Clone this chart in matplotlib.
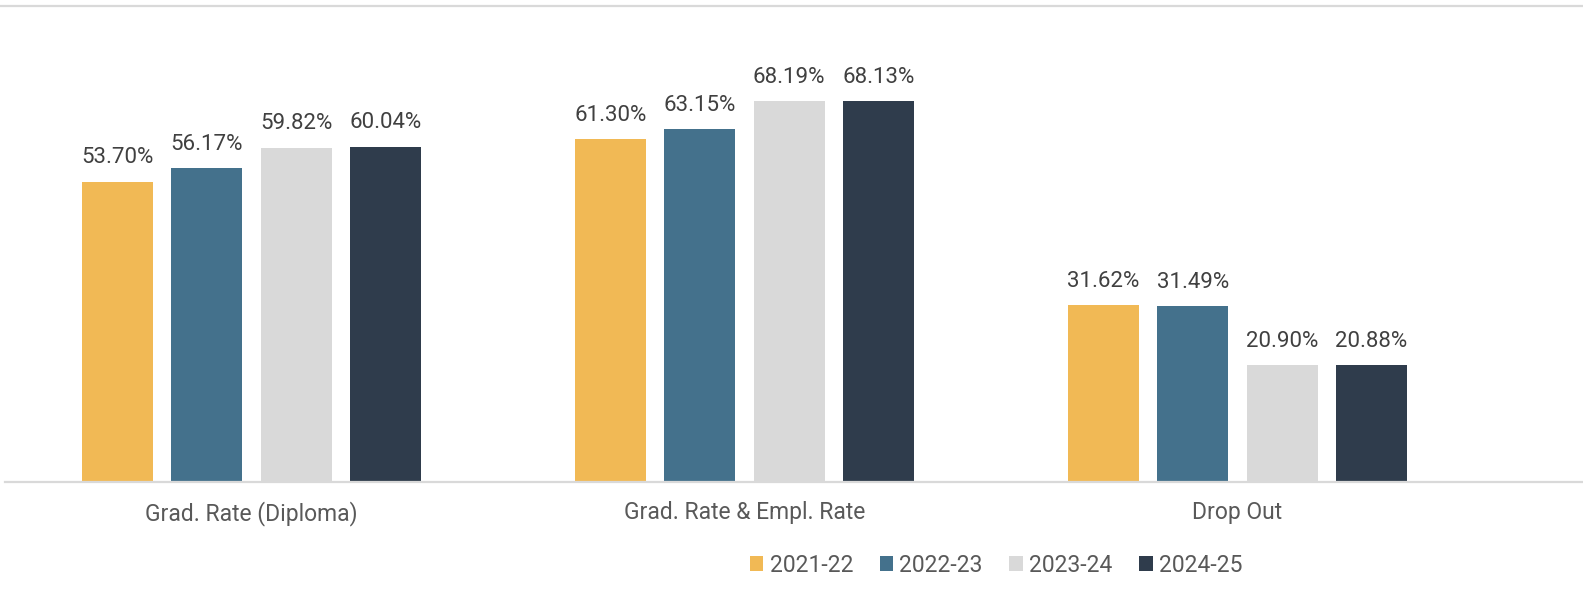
import matplotlib
matplotlib.use("Agg")
import matplotlib.pyplot as plt
from matplotlib.patches import Patch
from matplotlib.lines import Line2D
import numpy as np

categories = ["Grad. Rate (Diploma)", "Grad. Rate & Empl. Rate", "Drop Out"]
series_names = ["2021-22", "2022-23", "2023-24", "2024-25"]
v_2021_22 = [53.70, 61.30, 31.62]
v_2022_23 = [56.17, 63.15, 31.49]
v_2023_24 = [59.82, 68.19, 20.90]
v_2024_25 = [60.04, 68.13, 20.88]
values = [v_2021_22, v_2022_23, v_2023_24, v_2024_25]
colors = ["#F1B955", "#44718C", "#D9D9D9", "#2F3C4C"]

plt.rcParams['font.family'] = ['Roboto', 'DejaVu Sans']

W, H = 1583, 599
fig = plt.figure(figsize=(W / 100, H / 100), dpi=100)
fig.patch.set_facecolor("white")

base_y = 482
top_y = 6
ax = fig.add_axes([5 / W, 1 - base_y / H, 1 - 5 / W, (base_y - top_y) / H])
px_per_unit = 493.0
ax.set_xlim(-0.5, -0.5 + (W - 5) / px_per_unit)
px_per_pct = 381 / 68.19
ax.set_ylim(0, (base_y - top_y) / px_per_pct)

x = np.arange(len(categories))
step = 89.3 / px_per_unit
width = 71 / px_per_unit
for i, (name, vals, c) in enumerate(zip(series_names, values, colors)):
    pos = x + (i - 1.5) * step
    bars = ax.bar(pos, vals, width=width, color=c, label=name, zorder=2)
    for b, v in zip(bars, vals):
        ax.annotate(f"{v:.2f}%", (b.get_x() + b.get_width() / 2, v),
                    xytext=(0, 13.3), textcoords="offset points",
                    ha="center", va="baseline", fontsize=16, color="#404040")

for s in ["top", "left", "right"]:
    ax.spines[s].set_visible(False)
ax.spines["bottom"].set_color("#D9D9D9")
ax.spines["bottom"].set_linewidth(1.6)
ax.set_yticks([])
ax.set_xticks(x)
ax.set_xticklabels(categories, fontsize=16.5, color="#595959")
ax.tick_params(axis="x", length=0, pad=14)

fig.add_artist(Line2D([0, 1], [1 - top_y / H, 1 - top_y / H], color="#D9D9D9",
                      linewidth=1.6, transform=fig.transFigure))

handles = [Patch(facecolor=c, edgecolor="none") for c in colors]
fig.legend(handles, series_names, loc="center", bbox_to_anchor=(996 / W, 1 - 565 / H),
           ncol=4, frameon=False, fontsize=16.5, labelcolor="#595959",
           handlelength=0.6, handleheight=0.6, handletextpad=0.27, columnspacing=1.15)

fig.savefig("out.png", dpi=100, facecolor="white")
